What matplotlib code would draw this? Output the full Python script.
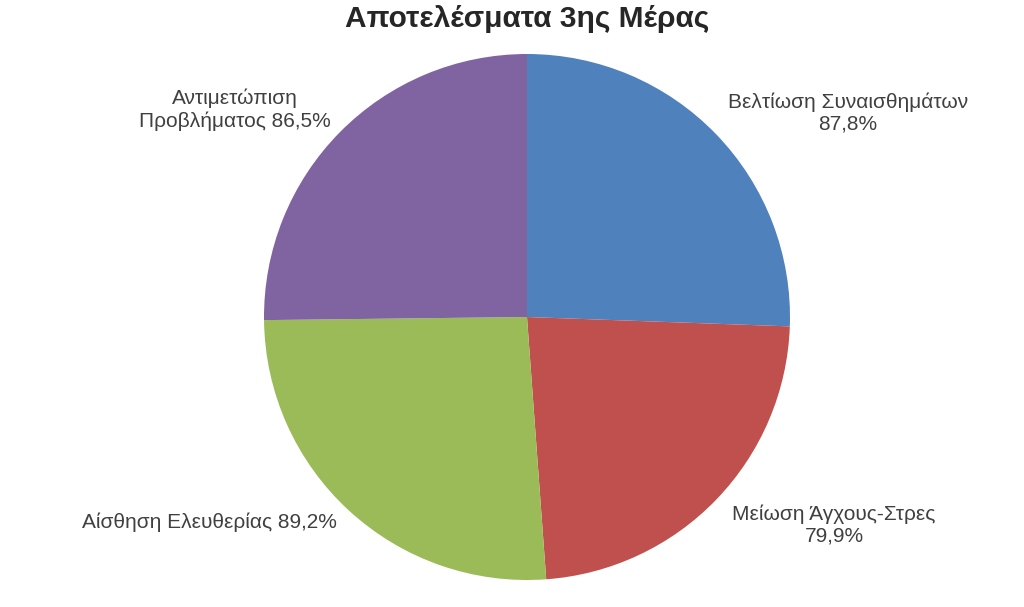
import matplotlib.pyplot as plt

# δεδομένα
categories = ['Βελτίωση Συναισθημάτων', 'Μείωση Άγχους-Στρες',
              'Αίσθηση Ελευθερίας', 'Αντιμετώπιση Προβλήματος']
values = [87.8, 79.9, 89.2, 86.5]
colors = ['#4F81BD', '#C0504D', '#9BBB59', '#8064A2']

# θέσεις ετικετών (pixels)
label_pos = [(848, 113), (834, 525), (209, 522), (235, 110)]

plt.rcParams['font.family'] = ['Liberation Sans', 'DejaVu Sans']

fig = plt.figure(figsize=(10.24, 6.07), dpi=100)
ax = fig.add_axes([0, 0, 1, 1])

ax.pie(values, colors=colors, startangle=90, counterclock=False,
       center=(527, 607 - 317), radius=263, frame=False)
ax.set_xlim(0, 1024)
ax.set_ylim(0, 607)
ax.set_aspect('auto')
ax.axis('off')

for i, (cat, val, (x, y)) in enumerate(zip(categories, values, label_pos)):
    pct = ('%.1f%%' % val).replace('.', ',')
    if i == 2:
        txt = cat + ' ' + pct
    elif i == 3:
        first, second = cat.split(' ')
        txt = first + '\n' + second + ' ' + pct
    else:
        txt = cat + '\n' + pct
    ax.text(x, 607 - y, txt, ha='center', va='center', fontsize=15,
            color='#404040', linespacing=1.2)

ax.text(527, 607 - 19, 'Αποτελέσματα 3ης Μέρας', ha='center', va='center',
        fontsize=21.5, fontweight='bold', color='#262626')

fig.savefig('out.png', dpi=100)
